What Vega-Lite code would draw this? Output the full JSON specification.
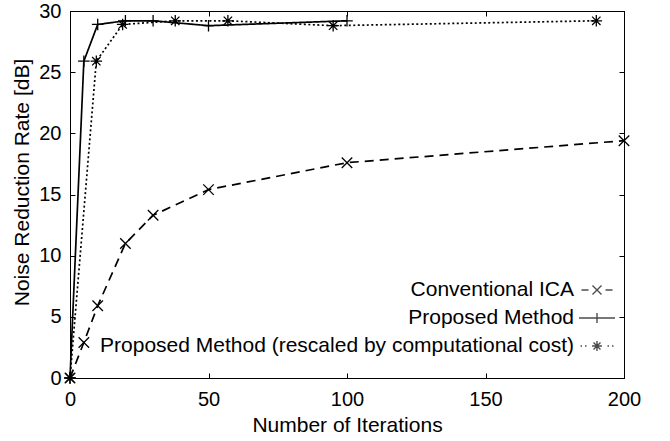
{
  "$schema": "https://vega.github.io/schema/vega-lite/v6.json",
  "width": 554,
  "height": 367,
  "autosize": {"type": "none"},
  "padding": {"left": 70, "top": 11, "right": 46, "bottom": 63},
  "background": "white",
  "config": {
    "font": "Liberation Sans",
    "view": {"stroke": "black", "strokeWidth": 1},
    "axis": {
      "grid": false,
      "domainColor": "black",
      "tickColor": "black",
      "labelColor": "black",
      "titleColor": "black",
      "tickSize": -5,
      "labelFlush": false,
      "labelOverlap": false,
      "labelFontSize": 20,
      "titleFontSize": 21,
      "titleFontWeight": "normal"
    }
  },
  "data": {
    "values": [
      {"series": "Conventional ICA", "x": 0, "y": 0},
      {"series": "Conventional ICA", "x": 5, "y": 2.9},
      {"series": "Conventional ICA", "x": 10, "y": 5.9},
      {"series": "Conventional ICA", "x": 20, "y": 11.0},
      {"series": "Conventional ICA", "x": 30, "y": 13.3},
      {"series": "Conventional ICA", "x": 50, "y": 15.4},
      {"series": "Conventional ICA", "x": 100, "y": 17.6},
      {"series": "Conventional ICA", "x": 200, "y": 19.4},
      {"series": "Proposed Method", "x": 0, "y": 0},
      {"series": "Proposed Method", "x": 5, "y": 25.9},
      {"series": "Proposed Method", "x": 10, "y": 28.9},
      {"series": "Proposed Method", "x": 20, "y": 29.2},
      {"series": "Proposed Method", "x": 30, "y": 29.2},
      {"series": "Proposed Method", "x": 50, "y": 28.8},
      {"series": "Proposed Method", "x": 100, "y": 29.2},
      {"series": "Proposed Method (rescaled by computational cost)", "x": 0, "y": 0},
      {"series": "Proposed Method (rescaled by computational cost)", "x": 9.5, "y": 25.9},
      {"series": "Proposed Method (rescaled by computational cost)", "x": 19, "y": 28.9},
      {"series": "Proposed Method (rescaled by computational cost)", "x": 38, "y": 29.2},
      {"series": "Proposed Method (rescaled by computational cost)", "x": 57, "y": 29.2},
      {"series": "Proposed Method (rescaled by computational cost)", "x": 95, "y": 28.8},
      {"series": "Proposed Method (rescaled by computational cost)", "x": 190, "y": 29.2}
    ]
  },
  "layer": [
    {
      "mark": {"type": "line", "color": "black", "strokeWidth": 1.7},
      "encoding": {
        "x": {
          "field": "x", "type": "quantitative",
          "scale": {"domain": [0, 200], "nice": false},
          "axis": {"orient": "bottom", "values": [0, 50, 100, 150, 200], "title": "Number of Iterations", "labelPadding": 16, "titlePadding": 5}
        },
        "y": {
          "field": "y", "type": "quantitative",
          "scale": {"domain": [0, 30], "nice": false},
          "axis": {"orient": "left", "values": [0, 5, 10, 15, 20, 25, 30], "title": "Noise Reduction Rate [dB]", "labelPadding": 14, "titlePadding": 6, "titleY": 171}
        },
        "strokeDash": {
          "field": "series", "type": "nominal",
          "scale": {
            "domain": ["Conventional ICA", "Proposed Method", "Proposed Method (rescaled by computational cost)"],
            "range": [[9, 6], [1, 0], [2, 2.5]]
          },
          "legend": null
        }
      }
    },
    {
      "mark": {"type": "point", "filled": false, "color": "black", "strokeWidth": 1.3, "size": 110, "opacity": 1},
      "encoding": {
        "x": {"field": "x", "type": "quantitative", "axis": {"orient": "top", "values": [0, 50, 100, 150, 200], "labels": false, "title": null}},
        "y": {"field": "y", "type": "quantitative", "axis": {"orient": "right", "values": [0, 5, 10, 15, 20, 25, 30], "labels": false, "title": null}},
        "shape": {
          "field": "series", "type": "nominal",
          "scale": {
            "domain": ["Conventional ICA", "Proposed Method", "Proposed Method (rescaled by computational cost)"],
            "range": [
              "M-1,-1L1,1M-1,1L1,-1",
              "M-1.1,0L1.1,0M0,-1.1L0,1.1",
              "M-1.1,0L1.1,0M0,-1.1L0,1.1M-0.8,-0.8L0.8,0.8M-0.8,0.8L0.8,-0.8"
            ]
          },
          "legend": null
        }
      }
    },
    {
      "transform": [{"filter": "datum.x < 0"}],
      "mark": {"type": "point", "filled": false, "color": "black", "strokeWidth": 1.4},
      "encoding": {
        "x": {"field": "x", "type": "quantitative", "axis": null},
        "y": {"field": "y", "type": "quantitative", "axis": null},
        "shape": {
          "field": "series", "type": "nominal",
          "scale": {
            "domain": ["Conventional ICA", "Proposed Method", "Proposed Method (rescaled by computational cost)"],
            "range": [
              "M-1.55,0L-0.85,0M0.85,0L1.55,0M-0.45,-0.45L0.45,0.45M-0.45,0.45L0.45,-0.45",
              "M-1.8,0L1.8,0M0,-0.5L0,0.5",
              "M-1.65,0L-1.5,0M-1.2,0L-1.05,0M-0.5,0L0.5,0M0,-0.5L0,0.5M-0.35,-0.35L0.35,0.35M-0.35,0.35L0.35,-0.35M1.05,0L1.2,0M1.5,0L1.65,0"
            ]
          },
          "legend": {
            "title": null,
            "orient": "none",
            "legendX": 516,
            "legendY": 268,
            "padding": 0,
            "symbolSize": 400,
            "symbolStrokeColor": "black",
            "symbolStrokeWidth": 1.4,
            "symbolFillColor": "transparent",
            "labelFontSize": 21,
            "labelColor": "black",
            "labelAlign": "right",
            "labelOffset": -34,
            "labelLimit": 600,
            "rowPadding": 7
          }
        }
      }
    }
  ],
  "resolve": {
    "axis": {"x": "independent", "y": "independent"},
    "scale": {"shape": "independent"}
  }
}
